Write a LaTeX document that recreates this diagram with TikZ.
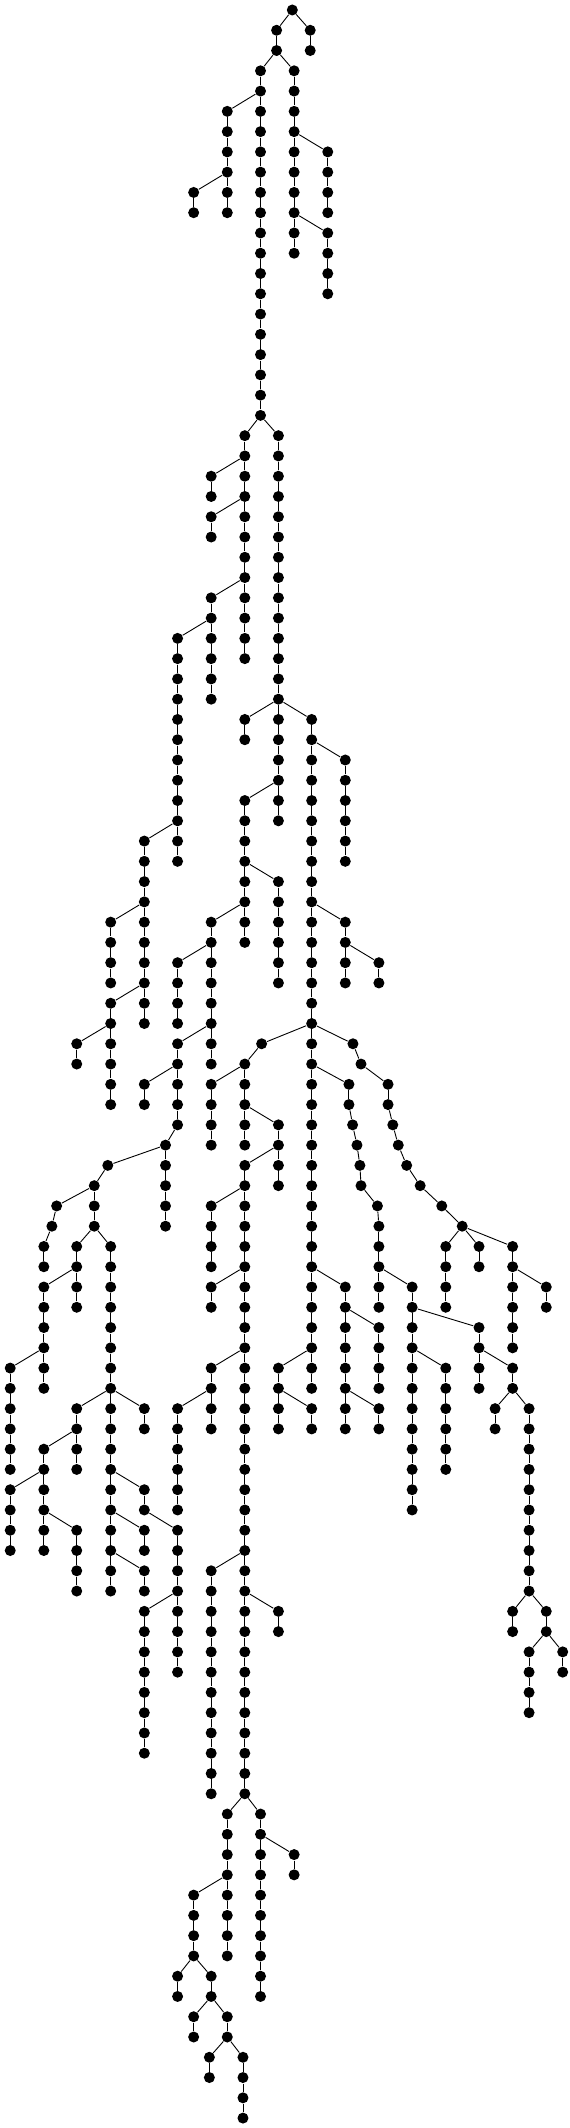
\documentclass[tikz,border=0pt]{standalone}
\usepackage{tikz}

\tikzset{dot/.style={circle, fill=black, inner sep=0pt, minimum size=11pt}}

\newcommand{\vchain}[3]{%
  \foreach \l in {#2,...,#3} \node[dot] (n#1-\l) at (#1,\l) {};
  \ifnum#2<#3\relax
    \pgfmathtruncatemacro{\lstop}{#3-1}%
    \foreach \l [evaluate=\l as \m using int(\l+1)] in {#2,...,\lstop} \draw (n#1-\l) -- (n#1-\m);
  \fi}

\begin{document}
\begin{tikzpicture}[x=0.36538pt, y=-20.27pt, line width=0.9pt]
    \useasboundingbox (0,-0.4933) rectangle (1560,104.49);

    \foreach \x/\a/\b in {800/0/0, 757/1/2, 849/1/2, 713/3/20, 805/3/12, 622/5/10, 530/9/10, 897/7/10, 897/11/14,
      670/21/32, 762/21/40, 578/23/24, 578/25/26, 578/29/34, 486/31/42, 670/35/36, 853/35/68, 945/37/42,
      670/39/46, 395/41/50, 762/43/48, 303/45/48, 578/45/52, 945/45/48, 1037/47/48, 486/47/50, 303/49/54,
      210/51/52, 486/51/55, 716/51/51, 966/51/51, 670/52/56, 988/52/52, 395/53/54, 578/53/56, 955/53/54,
      1062/53/54, 762/55/58, 965/55/55, 1075/55/55, 453/56/60, 977/56/56, 1090/56/56, 295/57/57, 670/57/88,
      985/57/57, 1113/57/57, 258/58/60, 988/58/58, 1150/58/58, 155/59/59, 578/59/62, 1033/59/59, 1209/59/59,
      142/60/60, 1037/60/64, 1265/60/60, 120/61/62, 210/61/64, 303/61/78, 1220/61/64, 1311/61/62, 1403/61/66,
      120/63/68, 578/63/64, 945/63/70, 1128/63/74, 1495/63/64, 1037/65/68, 1311/65/68, 28/67/72, 578/67/70,
      762/67/70, 1220/67/72, 1403/67/68, 210/69/72, 395/69/70, 486/69/74, 853/69/70, 1037/69/70, 1355/69/70,
      1448/69/78, 120/71/76, 28/73/76, 395/73/74, 210/75/78, 395/75/76, 486/75/82, 395/77/78, 578/77/88,
      395/79/86, 762/79/80, 1403/79/80, 1495/79/80, 1448/81/84, 1540/81/82, 622/89/96, 713/89/98, 805/91/92,
      530/93/96, 486/97/98, 578/97/98, 530/99/100, 622/99/100, 573/101/102, 665/101/104}
      \vchain{\x}{\a}{\b};

    \foreach \a/\b in {800-0/757-1, 800-0/849-1, 757-2/713-3, 757-2/805-3, 713-4/622-5, 622-8/530-9,
      805-6/897-7, 805-10/897-11, 713-20/670-21, 713-20/762-21, 670-22/578-23, 670-24/578-25, 670-28/578-29,
      578-30/486-31, 762-34/670-35, 762-34/853-35, 853-36/945-37, 762-38/670-39, 486-40/395-41, 670-42/762-43,
      395-44/303-45, 670-44/578-45, 853-44/945-45, 945-46/1037-47, 578-46/486-47, 395-48/303-49, 303-50/210-51,
      578-50/486-51, 853-50/716-51, 853-50/966-51, 716-51/670-52, 966-51/988-52, 853-52/955-53, 988-52/1062-53,
      486-52/395-53, 670-52/578-53, 670-54/762-55, 955-54/965-55, 965-55/977-56, 977-56/985-57, 985-57/988-58,
      988-58/1033-59, 1033-59/1037-60, 1062-54/1075-55, 1075-55/1090-56, 1090-56/1113-57, 1113-57/1150-58,
      1150-58/1209-59, 1209-59/1265-60, 486-55/453-56, 453-56/295-57, 762-56/670-57, 295-57/258-58,
      258-58/155-59, 670-58/578-59, 155-59/142-60, 142-60/120-61, 258-60/210-61, 258-60/303-61,
      1265-60/1220-61, 1265-60/1311-61, 1265-60/1403-61, 210-62/120-63, 670-62/578-63, 853-62/945-63,
      1037-62/1128-63, 1403-62/1495-63, 945-64/1037-65, 1128-64/1311-65, 120-66/28-67, 670-66/578-67,
      853-66/762-67, 1128-66/1220-67, 1311-66/1403-67, 303-68/210-69, 303-68/395-69, 578-68/486-69,
      762-68/853-69, 945-68/1037-69, 1403-68/1355-69, 1403-68/1448-69, 210-70/120-71, 120-72/28-73,
      303-72/395-73, 120-74/210-75, 303-74/395-75, 395-74/486-75, 303-76/395-77, 670-76/578-77,
      486-78/395-79, 670-78/762-79, 1448-78/1403-79, 1448-78/1495-79, 1495-80/1448-81, 1495-80/1540-81,
      670-88/622-89, 670-88/713-89, 713-90/805-91, 622-92/530-93, 530-96/486-97, 530-96/578-97,
      578-98/530-99, 578-98/622-99, 622-100/573-101, 622-100/665-101}
      \draw (n\a) -- (n\b);
\end{tikzpicture}
\end{document}
